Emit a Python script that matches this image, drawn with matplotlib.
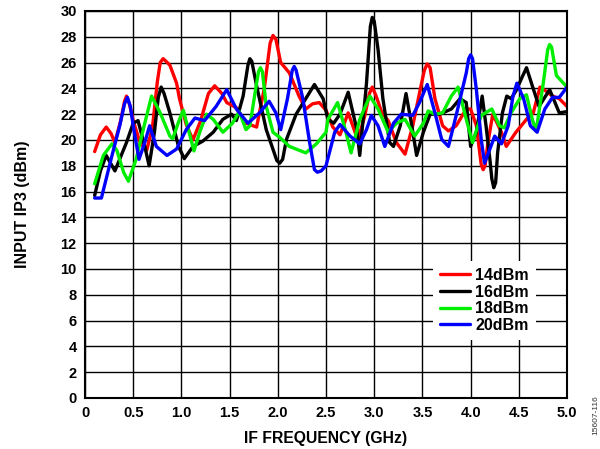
import matplotlib
matplotlib.use("Agg")
import matplotlib.pyplot as plt

plt.rcParams["font.family"] = ["Liberation Sans", "DejaVu Sans"]
plt.rcParams["font.weight"] = "bold"

# IF frequency (GHz) / input IP3 (dBm)
x_14 = [0.10, 0.16, 0.22, 0.27, 0.31, 0.37, 0.41, 0.43, 0.46, 0.50, 0.57, 0.64,
        0.70, 0.75, 0.78, 0.81, 0.84, 0.88, 0.95, 0.98, 1.05, 1.12, 1.20, 1.28,
        1.345, 1.42, 1.47, 1.57, 1.67, 1.78, 1.86, 1.92, 1.95, 1.98, 2.03, 2.12,
        2.22, 2.29, 2.36, 2.43, 2.50, 2.57, 2.645, 2.73, 2.83, 2.90, 2.95, 2.98,
        3.02, 3.08, 3.145, 3.23, 3.32, 3.40, 3.48, 3.52, 3.55, 3.58, 3.63, 3.71,
        3.77, 3.85, 3.955, 4.00, 4.06, 4.11, 4.13, 4.15, 4.18, 4.23, 4.32, 4.37,
        4.47, 4.58, 4.65, 4.72, 4.78, 4.85, 4.92, 5.00]
y_14 = [19.1, 20.4, 21.0, 20.5, 19.8, 21.5, 23.0, 23.4, 22.8, 21.5, 19.8, 19.2,
        21.0, 24.5, 26.0, 26.3, 26.1, 25.8, 24.4, 23.2, 21.2, 20.0, 21.5, 23.6,
        24.2, 23.6, 22.9, 22.5, 21.3, 21.0, 24.0, 27.5, 28.1, 27.8, 26.0, 25.2,
        23.4, 22.4, 22.8, 22.9, 22.3, 21.0, 20.4, 22.1, 20.0, 21.8, 23.6, 24.1,
        23.4, 22.1, 21.5, 19.8, 18.9, 21.1, 24.0, 25.4, 25.9, 25.6, 23.2, 21.1,
        20.7, 21.1, 22.4, 22.4, 21.1, 18.1, 17.7, 18.0, 19.8, 22.0, 20.6, 19.5,
        20.6, 21.6, 22.1, 24.1, 23.8, 23.4, 23.2, 22.6]

x_16 = [0.10, 0.16, 0.22, 0.31, 0.43, 0.50, 0.55, 0.62, 0.665, 0.72, 0.76, 0.79,
        0.82, 0.88, 0.97, 1.03, 1.12, 1.22, 1.33, 1.43, 1.52, 1.57, 1.64, 1.69,
        1.71, 1.73, 1.78, 1.88, 1.99, 2.02, 2.05, 2.09, 2.19, 2.29, 2.38, 2.47,
        2.52, 2.58, 2.645, 2.73, 2.82, 2.85, 2.92, 2.96, 2.98, 3.00, 3.04, 3.09,
        3.16, 3.20, 3.27, 3.33, 3.39, 3.44, 3.51, 3.58, 3.68, 3.80, 3.89, 3.955,
        4.00, 4.06, 4.12, 4.16, 4.20, 4.22, 4.24, 4.26, 4.28, 4.33, 4.375, 4.42,
        4.47, 4.53, 4.58, 4.64, 4.71, 4.82, 4.92, 5.00]
y_16 = [15.7, 17.6, 18.8, 17.6, 19.8, 21.3, 21.5, 19.5, 18.0, 20.6, 23.3, 24.1,
        23.6, 22.1, 19.5, 18.55, 19.5, 19.9, 20.6, 21.6, 22.0, 21.5, 23.4, 25.8,
        26.3, 26.1, 24.2, 20.8, 18.4, 18.2, 18.5, 20.05, 22.0, 23.2, 24.3, 23.2,
        21.6, 21.3, 22.0, 23.7, 20.8, 18.8, 24.4, 28.8, 29.5, 29.2, 27.0, 23.2,
        19.8, 19.5, 21.1, 23.6, 21.1, 18.8, 20.6, 22.0, 22.0, 22.4, 23.2, 22.9,
        19.5, 20.6, 23.4, 21.1, 18.5, 17.0, 16.3, 16.7, 19.0, 22.1, 23.4, 23.2,
        23.8, 24.8, 25.6, 24.2, 22.6, 23.9, 22.1, 22.2]

x_18 = [0.10, 0.19, 0.28, 0.33, 0.40, 0.45, 0.53, 0.62, 0.69, 0.78, 0.88, 0.91,
        0.98, 1.02, 1.09, 1.13, 1.19, 1.26, 1.33, 1.43, 1.53, 1.60, 1.67, 1.71,
        1.78, 1.80, 1.82, 1.84, 1.88, 1.95, 2.02, 2.12, 2.29, 2.40, 2.50, 2.52,
        2.62, 2.70, 2.76, 2.85, 2.955, 3.04, 3.145, 3.23, 3.32, 3.42, 3.51, 3.56,
        3.63, 3.71, 3.80, 3.87, 3.955, 4.02, 4.11, 4.22, 4.30, 4.35, 4.42, 4.51,
        4.58, 4.64, 4.68, 4.75, 4.80, 4.82, 4.84, 4.89, 5.00]
y_18 = [16.6, 18.8, 19.7, 19.2, 17.5, 16.8, 18.5, 21.3, 23.4, 22.1, 20.3, 20.1,
        21.6, 22.3, 20.3, 19.15, 20.6, 22.0, 21.6, 20.6, 21.3, 22.2, 20.8, 21.1,
        24.4, 25.3, 25.6, 25.3, 22.6, 20.6, 20.2, 19.5, 19.0, 19.7, 20.6, 21.6,
        22.9, 20.8, 19.0, 21.6, 23.4, 22.4, 20.6, 21.3, 21.6, 20.3, 21.3, 22.25,
        22.0, 22.1, 23.4, 24.1, 21.6, 19.8, 21.9, 22.4, 21.1, 20.95, 22.1, 23.2,
        23.5, 21.6, 20.7, 24.2, 27.0, 27.4, 27.2, 25.0, 24.1]

x_20 = [0.10, 0.17, 0.28, 0.36, 0.41, 0.44, 0.47, 0.50, 0.56, 0.62, 0.67, 0.74,
        0.85, 0.95, 1.05, 1.14, 1.24, 1.36, 1.47, 1.57, 1.69, 1.81, 1.91, 1.98,
        2.03, 2.10, 2.15, 2.17, 2.19, 2.26, 2.33, 2.38, 2.41, 2.45, 2.50, 2.59,
        2.645, 2.75, 2.85, 2.92, 2.97, 3.04, 3.11, 3.20, 3.28, 3.40, 3.47, 3.55,
        3.63, 3.70, 3.77, 3.85, 3.955, 3.98, 4.00, 4.02, 4.06, 4.11, 4.145, 4.20,
        4.25, 4.32, 4.39, 4.44, 4.48, 4.55, 4.62, 4.69, 4.77, 4.85, 4.92, 5.00]
y_20 = [15.5, 15.5, 18.8, 21.1, 22.8, 23.3, 22.6, 21.1, 18.5, 19.8, 21.1, 19.5,
        18.8, 19.3, 20.8, 21.7, 21.5, 22.6, 23.9, 22.4, 21.3, 22.1, 23.0, 22.1,
        20.8, 23.2, 25.4, 25.7, 25.4, 23.2, 19.8, 17.7, 17.5, 17.6, 18.0, 20.6,
        21.2, 20.3, 19.7, 20.8, 21.9, 21.1, 19.5, 21.3, 22.0, 21.9, 22.9, 24.3,
        22.1, 20.05, 19.5, 21.9, 25.2, 26.3, 26.6, 26.3, 23.9, 20.05, 18.2, 19.3,
        20.3, 19.7, 21.1, 23.4, 24.4, 23.2, 21.1, 20.6, 22.4, 23.3, 23.3, 24.1]

series = [("14dBm", x_14, y_14, "#ff0000"),
          ("16dBm", x_16, y_16, "#000000"),
          ("18dBm", x_18, y_18, "#00ee00"),
          ("20dBm", x_20, y_20, "#0000ff")]

fig = plt.figure(figsize=(6.0, 4.49), dpi=100)
ax = fig.add_axes([0.1417, 0.1136, 0.8033, 0.862])

for label, xs, ys, color in series:
    ax.plot(xs, ys, color=color, lw=2.4, label=label,
            solid_joinstyle="round", solid_capstyle="round")

ax.set_xlim(0, 5.0)
ax.set_ylim(0, 30)
ax.set_xticks([i * 0.5 for i in range(11)])
ax.set_xticklabels(["0"] + [f"{i * 0.5:.1f}" for i in range(1, 11)])
ax.set_yticks(range(0, 31, 2))
ax.tick_params(length=0, labelsize=10.5, pad=6)
ax.grid(True, color="black", lw=1.0)
for sp in ax.spines.values():
    sp.set_linewidth(1.5)

ax.set_xlabel("IF FREQUENCY (GHz)", fontsize=11.3, fontweight="bold", labelpad=8)
ax.set_ylabel("INPUT IP3 (dBm)", fontsize=11.5, fontweight="bold", labelpad=22)

leg = ax.legend(loc="upper left", bbox_to_anchor=(0.705, 0.375), fontsize=11.5,
                frameon=True, fancybox=False, framealpha=1, edgecolor="none",
                handlelength=1.9, handletextpad=0.3, labelspacing=0.1,
                borderpad=0.45)
for line in leg.get_lines():
    line.set_linewidth(2.4)

fig.text(0.993, 0.075, "15607-116", rotation=90, fontsize=6, fontweight="normal",
         ha="center", va="center", color="#333333")

fig.savefig("out.png", dpi=100)
